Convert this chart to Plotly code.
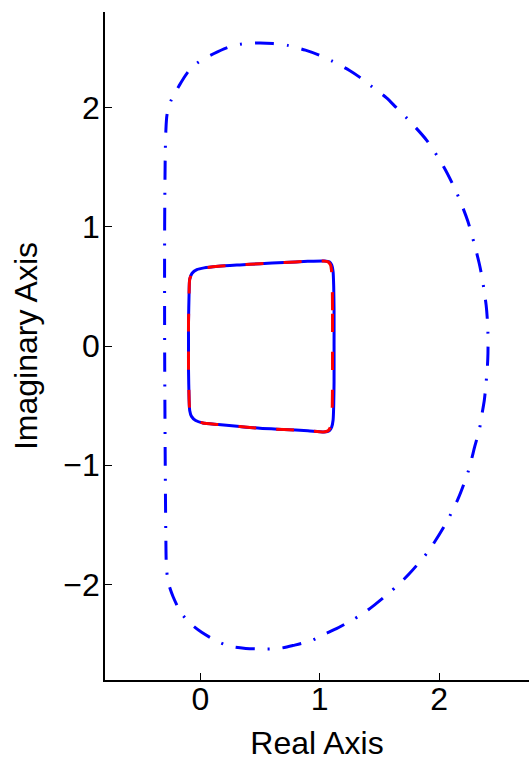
import plotly.graph_objects as go

# Outer contour (blue dash-dot)
outer_x = [-0.30, -0.30, -0.295, -0.29, -0.28, -0.25, -0.18, -0.11, -0.03, 0.11, 0.22, 0.33, 0.49,
           0.61, 0.73, 0.88, 0.99, 1.10, 1.25, 1.34, 1.43, 1.56, 1.64, 1.73, 1.90, 2.04, 2.15, 2.24,
           2.31, 2.335, 2.354, 2.374, 2.395, 2.405, 2.41, 2.41, 2.405, 2.395, 2.38, 2.36, 2.34, 2.30, 2.245,
           2.16, 2.05, 1.91, 1.75, 1.66, 1.57, 1.46, 1.36, 1.25, 1.14, 1.03, 0.93, 0.78, 0.66, 0.54,
           0.38, 0.26, 0.15, 0.01, -0.08, -0.16, -0.23, -0.27, -0.285, -0.29, -0.295, -0.30]
outer_y = [0.00, 1.00, 1.60, 1.80, 1.94, 2.05, 2.18, 2.29, 2.37, 2.45, 2.50, 2.53, 2.54,
           2.535, 2.52, 2.48, 2.44, 2.39, 2.31, 2.25, 2.18, 2.08, 2.00, 1.91, 1.72, 1.50, 1.28, 1.05,
           0.80, 0.70, 0.61, 0.49, 0.34, 0.22, 0.10, -0.06, -0.18, -0.30, -0.45, -0.57, -0.69, -0.84, -1.05,
           -1.28, -1.50, -1.72, -1.91, -2.00, -2.08, -2.17, -2.245, -2.31, -2.37, -2.42, -2.47, -2.51, -2.535, -2.54,
           -2.535, -2.52, -2.48, -2.40, -2.33, -2.24, -2.10, -1.98, -1.85, -1.60, -1.00, 0.00]

# Inner contour (blue solid)
solid_x = [1.12, 1.12, 1.117, 1.112, 1.10, 1.08, 1.04, 0.90, 0.70, 0.50, 0.33, 0.15, 0.03, -0.03,
           -0.07, -0.09, -0.095, -0.10, -0.10, -0.10, -0.095, -0.09, -0.075, -0.04, 0.02, 0.15, 0.33,
           0.50, 0.70, 0.90, 1.04, 1.08, 1.10, 1.112, 1.117, 1.12, 1.12]
solid_y = [0.00, 0.30, 0.50, 0.62, 0.68, 0.705, 0.713, 0.71, 0.70, 0.69, 0.68, 0.668, 0.655, 0.64,
           0.61, 0.56, 0.45, 0.20, 0.00, -0.20, -0.45, -0.54, -0.59, -0.625, -0.645, -0.658, -0.675,
           -0.69, -0.70, -0.71, -0.72, -0.71, -0.68, -0.62, -0.50, -0.30, 0.00]

# Inner contour (red dashed)
dashed_x = [1.107, 1.107, 1.105, 1.10, 1.09, 1.07, 1.03, 0.90, 0.70, 0.50, 0.33, 0.15, 0.03, -0.03,
            -0.07, -0.09, -0.095, -0.10, -0.10, -0.10, -0.095, -0.09, -0.075, -0.04, 0.02, 0.15, 0.33,
            0.50, 0.70, 0.90, 1.03, 1.07, 1.09, 1.10, 1.105, 1.107, 1.107]
dashed_y = solid_y

fig = go.Figure()
fig.add_trace(go.Scatter(x=outer_x, y=outer_y, mode="lines",
                         line=dict(color="#0000ff", width=3, dash="19px,13px,2px,13px", shape="spline", smoothing=0.8),
                         showlegend=False, hoverinfo="skip"))
fig.add_trace(go.Scatter(x=solid_x, y=solid_y, mode="lines",
                         line=dict(color="#0000ff", width=3, shape="spline", smoothing=0.6),
                         showlegend=False, hoverinfo="skip"))
fig.add_trace(go.Scatter(x=dashed_x, y=dashed_y, mode="lines",
                         line=dict(color="#ff0000", width=3, dash="18px,20px", shape="spline", smoothing=0.6),
                         showlegend=False, hoverinfo="skip"))

font = dict(family="Liberation Sans, Arial, Helvetica, sans-serif", size=32, color="black")
fig.update_layout(
    width=529, height=761,
    margin=dict(l=105, r=0, t=12, b=81),
    paper_bgcolor="white", plot_bgcolor="white",
    font=font,
    xaxis=dict(range=[-0.8, 2.754], tickvals=[0, 1, 2], ticks="inside", ticklen=7, tickwidth=1,
               tickcolor="black", showline=True, linecolor="black", linewidth=1.5, mirror=False,
               automargin=False, ticklabelstandoff=-10,
               showgrid=False, zeroline=False, title=dict(text="Real Axis", font=font, standoff=17)),
    yaxis=dict(range=[-2.8, 2.8], tickvals=[-2, -1, 0, 1, 2], ticks="inside", ticklen=7, tickwidth=1,
               tickcolor="black", showline=True, linecolor="black", linewidth=1.5, mirror=False,
               automargin=False, ticklabelstandoff=-3,
               showgrid=False, zeroline=False, title=dict(text="Imaginary Axis", font=font, standoff=16)),
)
fig.write_html("out.html", config={"displayModeBar": False},
               post_script="document.body.style.margin='0';document.body.style.overflow='hidden';")
